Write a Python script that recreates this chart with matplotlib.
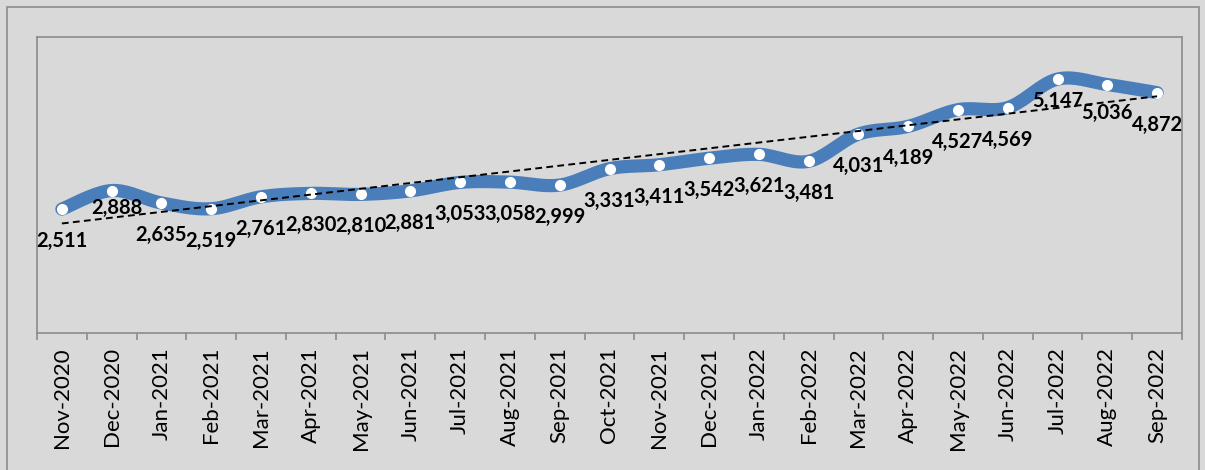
import numpy as np
import matplotlib.pyplot as plt
from matplotlib.patches import Rectangle

months = ["Nov-2020", "Dec-2020", "Jan-2021", "Feb-2021", "Mar-2021", "Apr-2021",
          "May-2021", "Jun-2021", "Jul-2021", "Aug-2021", "Sep-2021", "Oct-2021",
          "Nov-2021", "Dec-2021", "Jan-2022", "Feb-2022", "Mar-2022", "Apr-2022",
          "May-2022", "Jun-2022", "Jul-2022", "Aug-2022", "Sep-2022"]
values = [2511, 2888, 2635, 2519, 2761, 2830, 2810, 2881, 3053, 3058, 2999, 3331,
          3411, 3542, 3621, 3481, 4031, 4189, 4527, 4569, 5147, 5036, 4872]

BG = "#d9d9d9"
BLUE = "#4a7ebb"
GREY = "#8c8c8c"


def smooth(x, y, steps=20):
    # cubic Bezier segments with Catmull-Rom control points (Excel-style smoothing)
    x = np.asarray(x, float)
    y = np.asarray(y, float)
    px = np.concatenate([[x[0]], x, [x[-1]]])
    py = np.concatenate([[y[0]], y, [y[-1]]])
    t = np.linspace(0, 1, steps)[:, None]
    xs, ys = [], []
    for i in range(1, len(px) - 2):
        p0 = np.array([px[i], py[i]])
        p3 = np.array([px[i + 1], py[i + 1]])
        c1 = p0 + (np.array([px[i + 1], py[i + 1]]) - np.array([px[i - 1], py[i - 1]])) / 6
        c2 = p3 - (np.array([px[i + 2], py[i + 2]]) - np.array([px[i], py[i]])) / 6
        seg = (1 - t) ** 3 * p0 + 3 * (1 - t) ** 2 * t * c1 + 3 * (1 - t) * t ** 2 * c2 + t ** 3 * p3
        xs.append(seg[:, 0])
        ys.append(seg[:, 1])
    return np.concatenate(xs), np.concatenate(ys)


fig = plt.figure(figsize=(12.05, 4.70), dpi=100, facecolor=BG)
ax = fig.add_axes([37 / 1205, 137 / 470, 1145 / 1205, 296 / 470])
ax.set_facecolor(BG)

# outer chart border
fig.patches.append(Rectangle((7 / 1205, -0.05), 1192 / 1205, 1.05 - 7 / 470,
                             transform=fig.transFigure, fill=False,
                             edgecolor=GREY, linewidth=1.2))

x = np.arange(len(values))
sx, sy = smooth(x, values)
ax.plot(sx, sy, color=BLUE, linewidth=9.5, solid_capstyle="round", zorder=2)
ax.plot(x, values, linestyle="none", marker="o", markersize=7,
        markerfacecolor="white", markeredgecolor="white", zorder=3)

# linear trendline
k, b = np.polyfit(x, values, 1)
ax.plot(x, k * x + b, color="black", linewidth=1.4, linestyle=(0, (3.5, 2.2)), zorder=4)

# data labels below the points; a few were nudged by hand
nudge = {1: (5, -17), 20: (0, -22), 21: (0, -28)}
for i, v in enumerate(values):
    dx, dy = nudge.get(i, (0, -32))
    ax.annotate(f"{v:,}", (i, v), xytext=(dx * 0.72, dy * 0.72), textcoords="offset points",
                ha="center", va="center", fontsize=14.5, fontweight="bold",
                fontfamily="Lato", color="black", zorder=5)

ax.set_xlim(-0.5, len(values) - 0.5)
ax.set_ylim(0, 6000)
ax.set_yticks([])

ax.set_xticks(np.arange(len(values) + 1) - 0.5)
ax.set_xticklabels([])
ax.tick_params(axis="x", which="major", length=5, color=GREY, width=1.2)
ax.set_xticks(x, minor=True)
ax.set_xticklabels(months, minor=True, rotation=90, fontsize=16, fontfamily="Lato")
ax.tick_params(axis="x", which="minor", length=0, pad=10)

for s in ax.spines.values():
    s.set_color(GREY)
    s.set_linewidth(1.2)

fig.savefig("out.png", dpi=100, facecolor=BG)
